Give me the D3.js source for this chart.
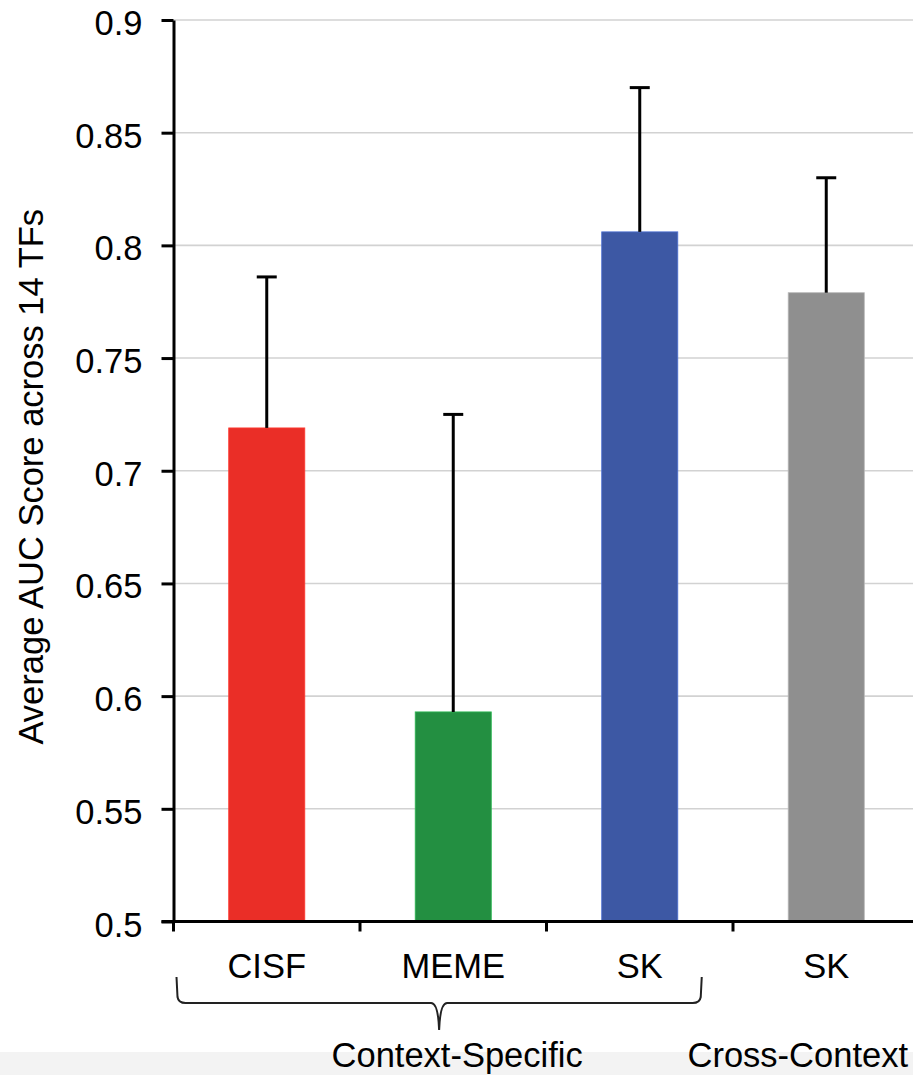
<!DOCTYPE html>
<html>
<head>
<meta charset="utf-8">
<script src="https://cdn.jsdelivr.net/npm/d3@7"></script>
<style>
    html, body { margin: 0; padding: 0; background: #fff; }
    svg { display: block; font-family: "Liberation Sans", Arial, sans-serif; }
</style>
</head>
<body>
<svg id="chart"></svg>
<script>
// dados
var keys = ["CISF", "MEME", "SK_specific", "SK_cross"];
var labels = ["CISF", "MEME", "SK", "SK"];
var means = [0.719, 0.593, 0.806, 0.779];
var errUp = [0.067, 0.132, 0.064, 0.051];
var colors = ["#EA2E27", "#238F41", "#3D58A4", "#8F8F8F"];
var yTicks = [0.5, 0.55, 0.6, 0.65, 0.7, 0.75, 0.8, 0.85, 0.9];
var yTickLabels = ["0.5", "0.55", "0.6", "0.65", "0.7", "0.75", "0.8", "0.85", "0.9"];
var groups = [
    {label: "Context-Specific", from: 0, to: 2},
    {label: "Cross-Context", from: 3, to: 3}
];

var width = 913,
    height = 1075,
    fontSize = 34.5;

var svg = d3.select("#chart")
    .attr("width", width)
    .attr("height", height);

// faixa cinza no rodape
svg.append("rect")
    .attr("x", 0).attr("y", 1052)
    .attr("width", width).attr("height", height - 1052)
    .attr("fill", "#f3f3f3");

var x = d3.scaleBand()
    .domain(keys)
    .range([173.5, 919.5])
    .padding(0);

var y = d3.scaleLinear()
    .domain([0.5, 0.9])
    .range([921.5, 20]);

var barW = x.bandwidth() * 0.408;

// linhas de grade
svg.append("g")
    .selectAll("line")
    .data(yTicks.filter(function(d) { return d > 0.5; }))
    .enter()
    .append("line")
    .attr("x1", x.range()[0])
    .attr("x2", width)
    .attr("y1", function(d) { return y(d); })
    .attr("y2", function(d) { return y(d); })
    .attr("stroke", "#d2d2d2")
    .attr("stroke-width", 1.6);

// barras
svg.append("g")
    .selectAll("rect")
    .data(keys)
    .enter()
    .append("rect")
    .attr("x", function(d) { return x(d) + x.bandwidth() / 2 - barW / 2; })
    .attr("y", function(d, i) { return y(means[i]); })
    .attr("width", barW)
    .attr("height", function(d, i) { return y(0.5) - y(means[i]); })
    .attr("fill", function(d, i) { return colors[i]; })
    .attr("stroke", function(d, i) { return d3.color(colors[i]).brighter(0.7); })
    .attr("stroke-width", 0.8);

// barras de erro (so para cima)
var err = svg.append("g")
    .attr("stroke", "#000")
    .attr("stroke-width", 3);

err.selectAll("line.v")
    .data(keys)
    .enter()
    .append("line")
    .attr("class", "v")
    .attr("x1", function(d) { return x(d) + x.bandwidth() / 2; })
    .attr("x2", function(d) { return x(d) + x.bandwidth() / 2; })
    .attr("y1", function(d, i) { return y(means[i]); })
    .attr("y2", function(d, i) { return y(means[i] + errUp[i]); });

err.selectAll("line.cap")
    .data(keys)
    .enter()
    .append("line")
    .attr("class", "cap")
    .attr("x1", function(d) { return x(d) + x.bandwidth() / 2 - 10; })
    .attr("x2", function(d) { return x(d) + x.bandwidth() / 2 + 10; })
    .attr("y1", function(d, i) { return y(means[i] + errUp[i]); })
    .attr("y2", function(d, i) { return y(means[i] + errUp[i]); });

// eixo y
var yAxis = svg.append("g")
    .attr("transform", "translate(" + x.range()[0] + ",0)")
    .call(d3.axisLeft(y)
        .tickValues(yTicks)
        .tickFormat(function(d, i) { return yTickLabels[i]; })
        .tickSize(12)
        .tickSizeOuter(0)
        .tickPadding(19));

yAxis.select(".domain").attr("stroke", "#000").attr("stroke-width", 3);
yAxis.selectAll(".tick line").attr("stroke", "#000").attr("stroke-width", 3);
yAxis.selectAll(".tick text")
    .attr("fill", "#000")
    .style("font-size", fontSize + "px")
    .style("font-family", "'Liberation Sans', Arial, sans-serif")
    .attr("dy", "0.42em");

// eixo x
svg.append("line")
    .attr("x1", x.range()[0] - 12)
    .attr("x2", width)
    .attr("y1", y(0.5))
    .attr("y2", y(0.5))
    .attr("stroke", "#000")
    .attr("stroke-width", 3);

svg.append("g")
    .selectAll("line")
    .data(keys)
    .enter()
    .append("line")
    .attr("x1", function(d) { return x(d); })
    .attr("x2", function(d) { return x(d); })
    .attr("y1", y(0.5))
    .attr("y2", y(0.5) + 10)
    .attr("stroke", "#000")
    .attr("stroke-width", 3);

svg.append("g")
    .selectAll("text")
    .data(keys)
    .enter()
    .append("text")
    .attr("x", function(d) { return x(d) + x.bandwidth() / 2; })
    .attr("y", 978)
    .attr("text-anchor", "middle")
    .style("font-size", fontSize + "px")
    .attr("fill", "#000")
    .text(function(d, i) { return labels[i]; });

// chave embaixo do grupo Context-Specific
var g0 = groups[0];
var bl = x(keys[g0.from]) + 3,
    br = x(keys[g0.to]) + x.bandwidth() / 2 + 62,
    bm = (bl + br) / 2,
    bt = 977, bb = 1003, tip = 1030;

var bracePath = d3.path();
bracePath.moveTo(bl, bt);
bracePath.lineTo(bl + 1, bb - 6);
bracePath.quadraticCurveTo(bl + 2, bb, bl + 9, bb);
bracePath.lineTo(bm - 8, bb);
bracePath.quadraticCurveTo(bm - 1, bb, bm, tip);
bracePath.moveTo(bm, tip);
bracePath.quadraticCurveTo(bm + 1, bb, bm + 8, bb);
bracePath.lineTo(br - 9, bb);
bracePath.quadraticCurveTo(br - 2, bb, br - 1, bb - 6);
bracePath.lineTo(br, bt);

svg.append("path")
    .attr("d", bracePath.toString())
    .attr("fill", "none")
    .attr("stroke", "#222")
    .attr("stroke-width", 2);

// rotulos dos grupos
svg.append("text")
    .attr("x", bm + 18)
    .attr("y", 1067)
    .attr("text-anchor", "middle")
    .style("font-size", fontSize + "px")
    .attr("fill", "#000")
    .text(groups[0].label);

svg.append("text")
    .attr("x", 908)
    .attr("y", 1067)
    .attr("text-anchor", "end")
    .style("font-size", fontSize + "px")
    .attr("fill", "#000")
    .text(groups[1].label);

// titulo do eixo y
svg.append("text")
    .attr("transform", "translate(43," + ((y(0.5) + y(0.9)) / 2 + 6) + ") rotate(-90)")
    .attr("text-anchor", "middle")
    .style("font-size", fontSize + "px")
    .attr("fill", "#000")
    .text("Average AUC Score across 14 TFs");
</script>
</body>
</html>
